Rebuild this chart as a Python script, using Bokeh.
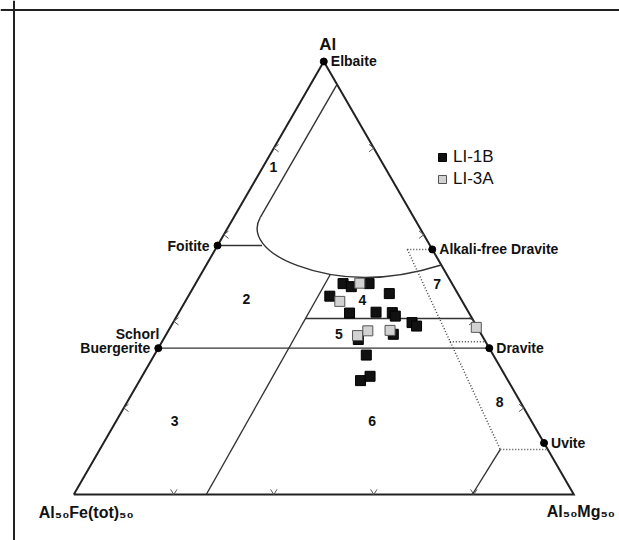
import math
from bokeh.plotting import figure
from bokeh.models import Range1d, Span, Legend, LegendItem
from bokeh.core.properties import value
from bokeh.embed import file_html
from bokeh.resources import INLINE

SQ3 = math.sqrt(3.0)

# ---------------- data (ternary compositions, % Al / % Mg ; Fe(tot) = rest) ----------------
li1b_al = [48.7, 48.0, 48.7, 45.8, 46.4, 41.9, 42.1, 42.0, 41.2, 39.7, 38.9, 35.8, 37.0, 32.2, 26.3, 27.3]
li1b_mg = [29.5, 31.5, 34.7, 28.3, 39.9, 34.2, 39.4, 42.7, 43.7, 47.8, 49.1, 39.0, 45.4, 42.4, 44.2, 45.6]
li3a_al = [48.8, 44.6, 36.7, 37.8, 37.9, 38.6]
li3a_mg = [32.8, 30.9, 38.4, 39.9, 44.3, 61.2]

end_names_left = ["Foitite", "Buergerite"]
end_al_left = [57.5, 33.8]
end_names_right = ["Elbaite", "Alkali-free Dravite", "Dravite", "Uvite"]
end_al_right = [100.0, 56.6, 33.8, 11.9]
end_mg_right = [0.0, 43.4, 66.2, 88.1]
schorl_name = ["Schorl"]
schorl_al = [33.8]

field_labels = ["1", "2", "3", "4", "5", "6", "7", "8"]
field_al = [75.6, 45.2, 16.9, 45.0, 37.0, 16.9, 48.5, 21.3]
field_mg = [2.1, 11.9, 11.7, 35.2, 34.5, 51.2, 48.4, 74.5]

tick_values = [20, 40, 60, 80]

apex_label = ["Al"]
left_corner_label = ["Al\u2085\u2080Fe(tot)\u2085\u2080"]
right_corner_label = ["Al\u2085\u2080Mg\u2085\u2080"]

# field boundaries: straight solid segments (start/end Al, Mg)
solid_al0 = [94.7, 57.5, 50.8, 33.8, 40.65, 10.4]
solid_mg0 = [5.3, 0.0, 25.9, 0.0, 26.0, 80.1]
solid_al1 = [64.0, 57.5, 0.0, 33.8, 40.65, 0.0]
solid_mg1 = [5.3, 8.9, 26.5, 66.2, 59.35, 79.7]

# curved boundary: cubic corner then quadratic arc (Al, Mg of control points)
corner_al = [64.0, 60.0, 55.7, 52.9]
corner_mg = [5.3, 5.3, 10.3, 18.2]
arc_al = [52.9, 47.25, 53.0]
arc_mg = [18.2, 34.05, 47.0]

# dotted boundaries
dot_al0 = [56.6, 56.6, 35.3, 10.4]
dot_mg0 = [38.4, 38.4, 57.55, 80.1]
dot_al1 = [56.6, 10.4, 35.3, 10.4]
dot_mg1 = [43.4, 80.1, 64.7, 89.6]


def tx(al, mg):
    return [(m + a / 2.0) / 100.0 for a, m in zip(al, mg)]


def ty(al):
    return [a * SQ3 / 200.0 for a in al]


FONT = value("Liberation Sans")
INK = "#222222"

p = figure(width=619, height=540, output_backend="svg", toolbar_location=None,
           x_range=Range1d(-0.1466, 1.0914), y_range=Range1d(-0.092, 0.988),
           x_axis_location=None, y_axis_location=None, min_border=0)
p.xgrid.grid_line_color = None
p.ygrid.grid_line_color = None
p.outline_line_color = None
p.background_fill_color = "white"
p.border_fill_color = "white"

# picture frame
p.add_layout(Span(location=0.969, dimension="width", line_color=INK, line_width=2))
p.add_layout(Span(location=-0.1196, dimension="height", line_color=INK, line_width=2))

# triangle
tri_al = [0, 100, 0, 0]
tri_mg = [0, 0, 100, 0]
p.line(tx(tri_al, tri_mg), ty(tri_al), line_color=INK, line_width=2, line_join="miter")

# ticks (chevrons)
L = 0.012
ang = math.radians(38)
xs, ys = [], []
for t in tick_values:
    x0, y0 = tx([t], [0])[0], ty([t])[0]
    xs.append([x0 + L * math.cos(ang), x0, x0 + L * math.cos(ang)])
    ys.append([y0 + L * math.sin(ang), y0, y0 - L * math.sin(ang)])
    x0, y0 = tx([t], [100 - t])[0], ty([t])[0]
    xs.append([x0 - L * math.cos(ang), x0, x0 - L * math.cos(ang)])
    ys.append([y0 + L * math.sin(ang), y0, y0 - L * math.sin(ang)])
    x0, y0 = tx([0], [t])[0], ty([0])[0]
    xs.append([x0 - L * math.sin(ang - 0.1), x0, x0 + L * math.sin(ang - 0.1)])
    ys.append([y0 + L * math.cos(ang - 0.1), y0, y0 + L * math.cos(ang - 0.1)])
p.multi_line(xs, ys, line_color="#555555", line_width=1)

# solid boundaries
p.segment(x0=tx(solid_al0, solid_mg0), y0=ty(solid_al0),
          x1=tx(solid_al1, solid_mg1), y1=ty(solid_al1),
          line_color="#333333", line_width=1.4)
cx = tx(corner_al, corner_mg)
cy = ty(corner_al)
p.bezier(x0=[cx[0]], y0=[cy[0]], cx0=[cx[1]], cy0=[cy[1]], cx1=[cx[2]], cy1=[cy[2]],
         x1=[cx[3]], y1=[cy[3]], line_color="#333333", line_width=1.4)
ax = tx(arc_al, arc_mg)
ay = ty(arc_al)
p.quadratic(x0=[ax[0]], y0=[ay[0]], cx=[ax[1]], cy=[ay[1]], x1=[ax[2]], y1=[ay[2]],
            line_color="#333333", line_width=1.4)

# dotted boundaries
p.segment(x0=tx(dot_al0, dot_mg0), y0=ty(dot_al0),
          x1=tx(dot_al1, dot_mg1), y1=ty(dot_al1),
          line_color="#444444", line_width=1.5, line_dash="1 2")

# end-member dots
p.scatter(tx(end_al_left, [0, 0]), ty(end_al_left), size=7, marker="circle",
          fill_color="black", line_color="black")
p.scatter(tx(end_al_right, end_mg_right), ty(end_al_right), size=7, marker="circle",
          fill_color="black", line_color="black")

# samples
r1 = p.scatter(tx(li1b_al, li1b_mg), ty(li1b_al), marker="square", size=10,
               fill_color="#111111", line_color="#000000", line_width=1)
r2 = p.scatter(tx(li3a_al, li3a_mg), ty(li3a_al), marker="square", size=10,
               fill_color="#d2d2d2", line_color="#555555", line_width=1)

# end-member labels
p.text(tx(end_al_left, [0, 0]), ty(end_al_left), text=end_names_left, text_font=FONT,
       text_font_style="bold", text_font_size="14px", text_align="right",
       text_baseline="middle", x_offset=-8, text_color="#111111")
p.text(tx(end_al_right, end_mg_right), ty(end_al_right), text=end_names_right, text_font=FONT,
       text_font_style="bold", text_font_size="14px", text_align="left",
       text_baseline="middle", x_offset=7, text_color="#111111")
p.text(tx(schorl_al, [0]), ty(schorl_al), text=schorl_name, text_font=FONT,
       text_font_style="bold", text_font_size="14px", text_align="right",
       text_baseline="middle", x_offset=1, y_offset=-14, text_color="#111111")

# field numbers
p.text(tx(field_al, field_mg), ty(field_al), text=field_labels, text_font=FONT,
       text_font_style="bold", text_font_size="14px", text_align="center",
       text_baseline="middle", text_color="#111111")

# corner labels
p.text(tx([100], [0]), ty([100]), text=apex_label, text_font=FONT, text_font_style="bold",
       text_font_size="17px", text_align="center", text_baseline="middle",
       x_offset=4, y_offset=-17, text_color="#111111")
p.text(tx([0], [0]), ty([0]), text=left_corner_label, text_font=FONT, text_font_style="bold",
       text_font_size="16px", text_align="left", text_baseline="middle",
       x_offset=-35, y_offset=18, text_color="#111111")
p.text(tx([0], [100]), ty([0]), text=right_corner_label, text_font=FONT, text_font_style="bold",
       text_font_size="16px", text_align="left", text_baseline="middle",
       x_offset=-27, y_offset=17, text_color="#111111")

# legend
legend = Legend(items=[LegendItem(label="LI-1B", renderers=[r1]),
                       LegendItem(label="LI-3A", renderers=[r2])],
                location=(432, 351), border_line_color=None, background_fill_alpha=0,
                padding=0, margin=0, spacing=2, glyph_width=20, glyph_height=20,
                label_height=20, label_standoff=1, label_text_font="Liberation Sans",
                label_text_font_size="17px", label_text_color="#111111")
p.add_layout(legend)

open("out.html", "w").write(file_html(p, INLINE))
